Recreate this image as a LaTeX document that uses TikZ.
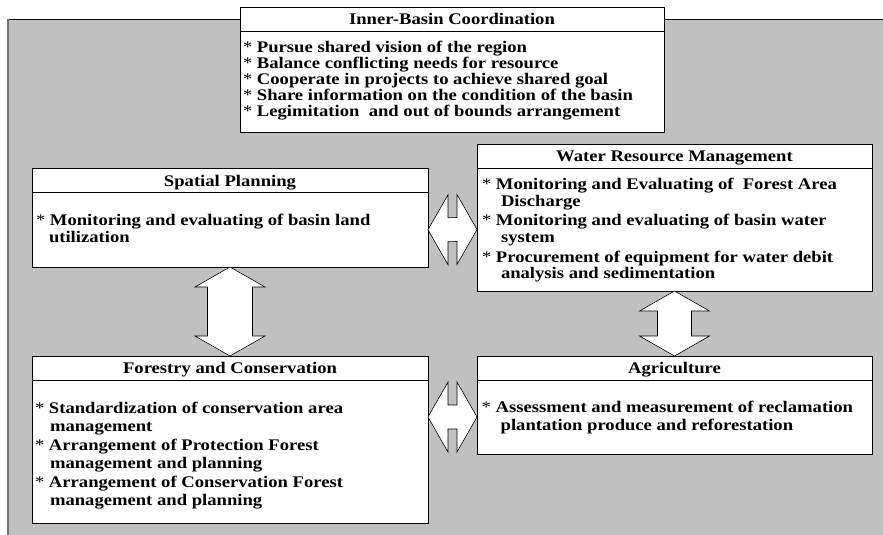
\documentclass[tikz,border=0pt]{standalone}
\usepackage{fontspec}
\setmainfont{Liberation Serif}[FakeStretch = 1.15]
\usetikzlibrary{positioning}
\definecolor{panelgray}{RGB}{192,192,192}
\newcommand{\itemstar}{{\mdseries *}~}

\begin{document}
\begin{tikzpicture}[x = 1pt, y = -1pt,
  every node/.style = {inner sep = 0pt, outer sep = 0pt},
  head/.style = {draw, fill = white, line width = 0.8pt, minimum height = 24pt,
                 text height = 12pt, text depth = 1pt,
                 font = \fontsize{16.2}{16}\selectfont\bfseries},
  body/.style = {draw, fill = white, line width = 0.8pt, below = 0pt of #1},
  items/.style = {align = left, font = \fontsize{16.2}{#1}\selectfont\bfseries},
  bigarrow/.style = {draw, fill = white, line width = 0.6pt},
  ]
  \useasboundingbox (0,0) rectangle (883,535);
  % grey panel behind the boxes
  \fill[panelgray] (7,19.5) rectangle (900,550);
  \draw[line width = 1pt] (7,19.5) -- (900,19.5);
  \draw[black!55, line width = 2pt] (8,19.5) -- (8,550);

  % Inner-Basin Coordination
  \node[head, minimum width = 424pt] (ibc-head) at (452,19) {Inner-Basin Coordination};
  \node[body = ibc-head, minimum width = 424pt, minimum height = 101pt] (ibc) {};
  \node[items = 16, below right = 10.2pt and 3pt of ibc.north west] (ibc-text)
    {\itemstar Pursue shared vision of the region\\
     \itemstar Balance conflicting needs for resource\\
     \itemstar Cooperate in projects to achieve shared goal\\
     \itemstar Share information on the condition of the basin\\
     \itemstar Legimitation\ \ and out of bounds arrangement};

  % Spatial Planning
  \node[head, minimum width = 396pt] (sp-head) at (230,180.5) {Spatial Planning};
  \node[body = sp-head, minimum width = 396pt, minimum height = 74.5pt] (sp) {};
  \node[items = 17, below right = 22pt and 4pt of sp.north west] (sp-text)
    {\itemstar Monitoring and evaluating of basin land\\
     \hspace*{13pt}utilization};

  % Water Resource Management
  \node[head, minimum width = 395pt] (wr-head) at (674.5,156) {Water Resource Management};
  \node[body = wr-head, minimum width = 395pt, minimum height = 123pt] (wr) {};
  \node[items = 16.8, below right = 10pt and 5pt of wr.north west] (wr-text)
    {\itemstar Monitoring and Evaluating of\ \ Forest Area\\
     \hspace*{19pt}Discharge\\[2.7pt]
     \itemstar Monitoring and evaluating of basin water\\
     \hspace*{19pt}system\\[2.7pt]
     \itemstar Procurement of equipment for water debit\\
     \hspace*{19pt}analysis and sedimentation};

  % Forestry and Conservation
  \node[head, minimum width = 396pt] (fc-head) at (230,368) {Forestry and Conservation};
  \node[body = fc-head, minimum width = 396pt, minimum height = 143pt] (fc) {};
  \node[items = 18.5, below right = 22pt and 3pt of fc.north west] (fc-text)
    {\itemstar Standardization of conservation area\\
     \hspace*{15pt}management\\
     \itemstar Arrangement of Protection Forest\\
     \hspace*{15pt}management and planning\\
     \itemstar Arrangement of Conservation Forest\\
     \hspace*{15pt}management and planning};

  % Agriculture
  \node[head, minimum width = 395pt] (ag-head) at (674.5,368) {Agriculture};
  \node[body = ag-head, minimum width = 395pt, minimum height = 74pt] (ag) {};
  \node[items = 18, below right = 21.5pt and 4.7pt of ag.north west] (ag-text)
    {\itemstar Assessment and measurement of reclamation\\
     \hspace*{19pt}plantation produce and reforestation};

  % two-way block arrows
  \coordinate (fc-mid) at (fc.east |- ag.west);
  \draw[bigarrow] (sp.south) -- ++(35,20) -- ++(-12.5,0)
    -- ([shift={(22.5,-20)}]fc-head.north) -- ++(12.5,0) -- (fc-head.north)
    -- ++(-35,-20) -- ++(12.5,0) -- ([shift={(-22.5,20)}]sp.south) -- ++(-12.5,0) -- cycle;
  \draw[bigarrow] (wr.south) -- ++(35,20) -- ++(-18,0)
    -- ([shift={(17,-20)}]ag-head.north) -- ++(18,0) -- (ag-head.north)
    -- ++(-35,-20) -- ++(18,0) -- ([shift={(-17,20)}]wr.south) -- ++(-18,0) -- cycle;
  \draw[bigarrow] (sp.east) -- ++(20,-35) -- ++(0,23)
    -- ([shift={(-20,-12)}]wr.west) -- ++(0,-23) -- (wr.west)
    -- ++(-20,35) -- ++(0,-23) -- ([shift={(20,12)}]sp.east) -- ++(0,23) -- cycle;
  \draw[bigarrow] (fc-mid) -- ++(20,-35) -- ++(0,23)
    -- ([shift={(-20,-12)}]ag.west) -- ++(0,-23) -- (ag.west)
    -- ++(-20,35) -- ++(0,-23) -- ([shift={(20,12)}]fc-mid) -- ++(0,23) -- cycle;
\end{tikzpicture}
\end{document}
